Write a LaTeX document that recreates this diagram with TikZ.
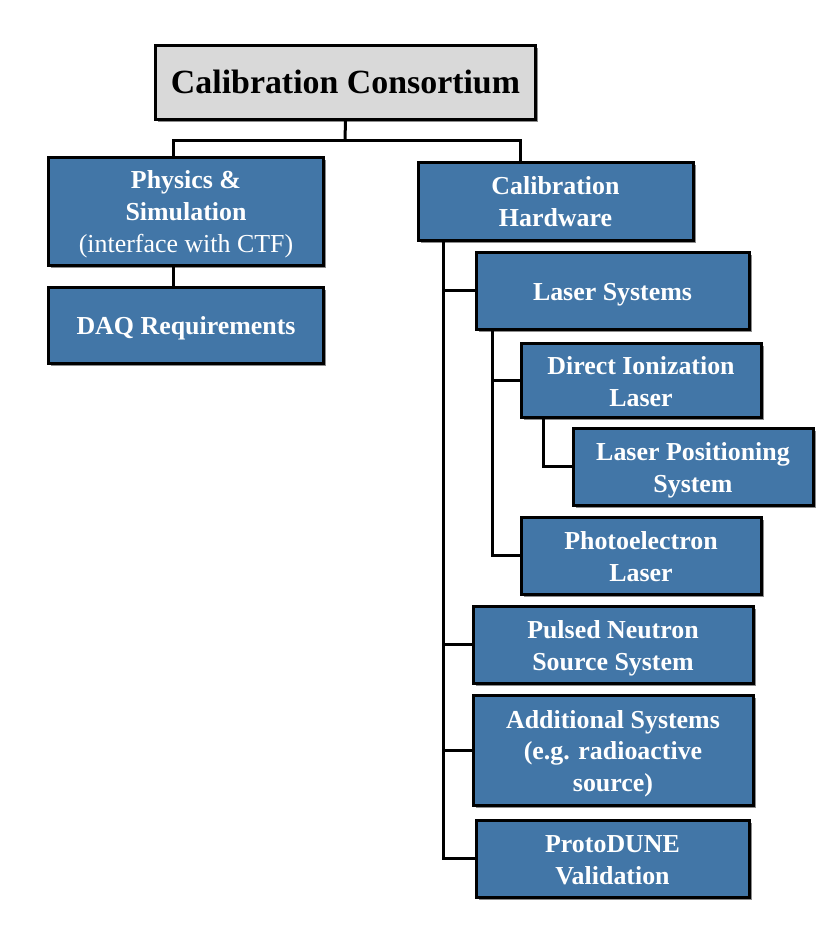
\documentclass[tikz,border=0pt]{standalone}
\usepackage{fontspec}
\setmainfont{Liberation Serif}
\usetikzlibrary{shadows}
\definecolor{boxblue}{RGB}{66,118,167}
\definecolor{boxgray}{RGB}{217,217,217}
\newcommand{\boxtext}[1]{\raisebox{0pt}[\dimexpr\height+7bp\relax][\depth]{\begin{tabular}{@{}c@{}}#1\end{tabular}}}
\begin{document}
\begin{tikzpicture}[x=1bp,y=-1bp,
  base/.style={draw=black, line width=3bp, rectangle, inner sep=2bp, align=center,
    drop shadow={shadow xshift=2.5bp, shadow yshift=-2.5bp, opacity=0.45, fill=black}},
  bluebox/.style={base, fill=boxblue, text=white,
    font=\fontsize{26}{32}\selectfont\bfseries},
  graybox/.style={base, fill=boxgray, text=black,
    font=\fontsize{34}{38}\selectfont\bfseries},
  link/.style={draw=black, line width=3bp}]
\useasboundingbox (0,0) rectangle (840,930);
% nodes (center, width, height)
\node[graybox, minimum width=379bp, minimum height=74bp] (top) at (345.5,82) {\boxtext{Calibration Consortium}};
\node[bluebox, minimum width=274bp, minimum height=108bp] (phys) at (186,211) {\boxtext{Physics \&\\Simulation\\\mdseries(interface with CTF)}};
\node[bluebox, minimum width=274bp, minimum height=76bp] (daq) at (186,325) {\boxtext{DAQ Requirements}};
\node[bluebox, minimum width=275bp, minimum height=78bp] (hw) at (555.5,201) {\boxtext{Calibration\\Hardware}};
\node[bluebox, minimum width=273bp, minimum height=77bp] (las) at (612.5,290.5) {\boxtext{Laser Systems}};
\node[bluebox, minimum width=240bp, minimum height=73bp] (dil) at (641,380.5) {\boxtext{Direct Ionization\\Laser}};
\node[bluebox, minimum width=240bp, minimum height=77bp] (lps) at (693,466.5) {\boxtext{Laser Positioning\\System}};
\node[bluebox, minimum width=240bp, minimum height=77bp] (pel) at (641,555.5) {\boxtext{Photoelectron\\Laser}};
\node[bluebox, minimum width=280bp, minimum height=77bp] (pns) at (613,644.5) {\boxtext{Pulsed Neutron\\Source System}};
\node[bluebox, minimum width=280bp, minimum height=110bp] (add) at (613,750) {\boxtext{Additional Systems\\(e.g. radioactive\\source)}};
\node[bluebox, minimum width=273bp, minimum height=77bp] (pd) at (612.5,858.5) {\boxtext{ProtoDUNE\\Validation}};
% connector coordinates
\coordinate (jt) at (345,140);
\coordinate (xa) at (173,0);
\coordinate (xb) at (520,0);
\coordinate (tr) at (443,0);
\coordinate (tr2) at (492,0);
\coordinate (tr3) at (543,0);
% connectors
\draw[link] (top.south) -- (jt);
\draw[link] (xa |- phys.north) -- (xa |- jt) -- (xb |- jt) -- (xb |- hw.north);
\draw[link] (xa |- phys.south) -- (xa |- daq.north);
\draw[link] (tr |- hw.south) -- (tr |- pd.west) -- (pd.west);
\draw[link] (tr |- las.west) -- (las.west);
\draw[link] (tr |- pns.west) -- (pns.west);
\draw[link] (tr |- add.west) -- (add.west);
\draw[link] (tr2 |- las.south) -- (tr2 |- pel.west) -- (pel.west);
\draw[link] (tr2 |- dil.west) -- (dil.west);
\draw[link] (tr3 |- dil.south) -- (tr3 |- lps.west) -- (lps.west);
\end{tikzpicture}
\end{document}
